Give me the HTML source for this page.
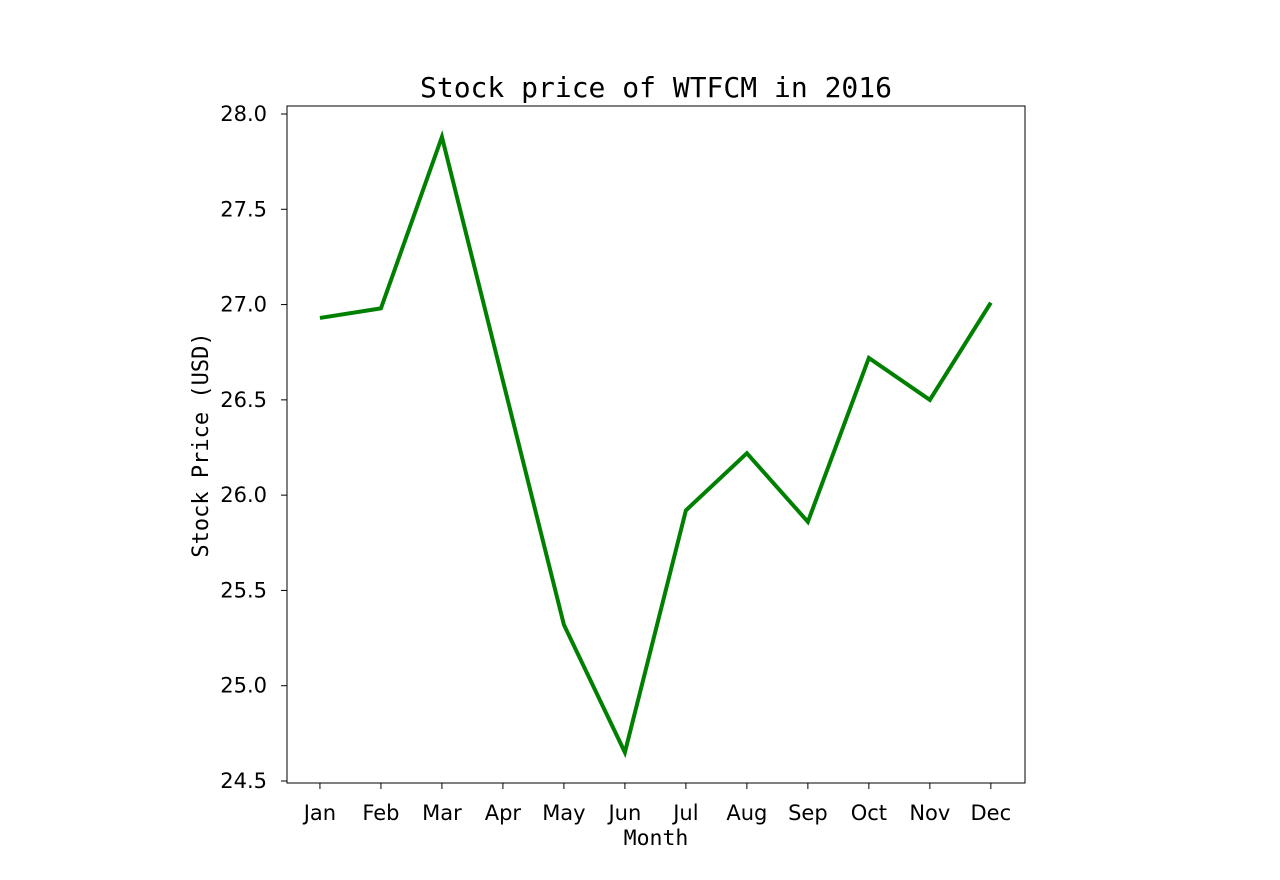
<!DOCTYPE html>
<html>
<head>
<meta charset="utf-8">
<style>
  html,body{margin:0;padding:0;background:#fff;}
  svg{display:block;}
</style>
</head>
<body>
<svg id="chart" width="1280" height="880" viewBox="0 0 1280 880" xmlns="http://www.w3.org/2000/svg">
  <rect x="0" y="0" width="1280" height="880" fill="#fff"/>
  <text x="656" y="97" text-anchor="middle" font-family="DejaVu Sans Mono, Liberation Mono, monospace" font-size="28" fill="#000">Stock price of WTFCM in 2016</text>
  <g id="yticks"></g>
  <g id="xticks"></g>
  <g id="series"></g>
  <rect x="287" y="106" width="738" height="677" fill="none" stroke="#000" stroke-width="1"/>
  <text x="656" y="845" text-anchor="middle" font-family="DejaVu Sans Mono, Liberation Mono, monospace" font-size="21.5" fill="#000">Month</text>
  <text transform="translate(208,445) rotate(-90)" text-anchor="middle" font-family="DejaVu Sans Mono, Liberation Mono, monospace" font-size="22" fill="#000">Stock Price (USD)</text>
</svg>
<script>
const months = ["Jan","Feb","Mar","Apr","May","Jun","Jul","Aug","Sep","Oct","Nov","Dec"];
const prices = [26.93,26.98,27.88,26.60,25.32,24.65,25.92,26.22,25.86,26.72,26.50,27.01];
const yTickValues = [24.5,25.0,25.5,26.0,26.5,27.0,27.5,28.0];

const NS = "http://www.w3.org/2000/svg";
const plotL = 287, plotR = 1025, plotT = 106, plotB = 783;
const yMin = 24.4895, yMax = 28.042;
const xMin = -0.54, xMax = 11.56;
function xScale(i){ return plotL + (i - xMin) / (xMax - xMin) * (plotR - plotL); }
function yScale(v){ return plotB - (v - yMin) / (yMax - yMin) * (plotB - plotT); }

const yg = document.getElementById('yticks');
yTickValues.forEach(v => {
  const y = yScale(v);
  const t = document.createElementNS(NS,'line');
  t.setAttribute('x1', plotL - 6); t.setAttribute('x2', plotL);
  t.setAttribute('y1', y); t.setAttribute('y2', y);
  t.setAttribute('stroke', '#000'); t.setAttribute('stroke-width', '1');
  
  
  yg.appendChild(t);
  const lb = document.createElementNS(NS,'text');
  lb.setAttribute('x', plotL - 20); lb.setAttribute('y', y + 7);
  lb.setAttribute('text-anchor', 'end');
  lb.setAttribute('font-family', 'DejaVu Sans, Liberation Sans, sans-serif');
  lb.setAttribute('font-size', '21');
  lb.textContent = v.toFixed(1);
  
  
  yg.appendChild(lb);
});

const xg = document.getElementById('xticks');
months.forEach((m, i) => {
  const x = xScale(i);
  const t = document.createElementNS(NS,'line');
  t.setAttribute('x1', x); t.setAttribute('x2', x);
  t.setAttribute('y1', plotB); t.setAttribute('y2', plotB + 6);
  t.setAttribute('stroke', '#000'); t.setAttribute('stroke-width', '1');
  
  
  xg.appendChild(t);
  const lb = document.createElementNS(NS,'text');
  lb.setAttribute('x', x); lb.setAttribute('y', plotB + 37);
  lb.setAttribute('text-anchor', 'middle');
  lb.setAttribute('font-family', 'DejaVu Sans, Liberation Sans, sans-serif');
  lb.setAttribute('font-size', '21');
  lb.textContent = m;
  
  
  xg.appendChild(lb);
});

const sg = document.getElementById('series');
const line = document.createElementNS(NS,'polyline');
line.setAttribute('points', prices.map((p, i) => xScale(i) + ',' + yScale(p)).join(' '));
line.setAttribute('fill', 'none');
line.setAttribute('stroke', '#008000');
line.setAttribute('stroke-width', '4');
line.setAttribute('stroke-linejoin', 'miter');


sg.appendChild(line);
</script>
</body>
</html>
